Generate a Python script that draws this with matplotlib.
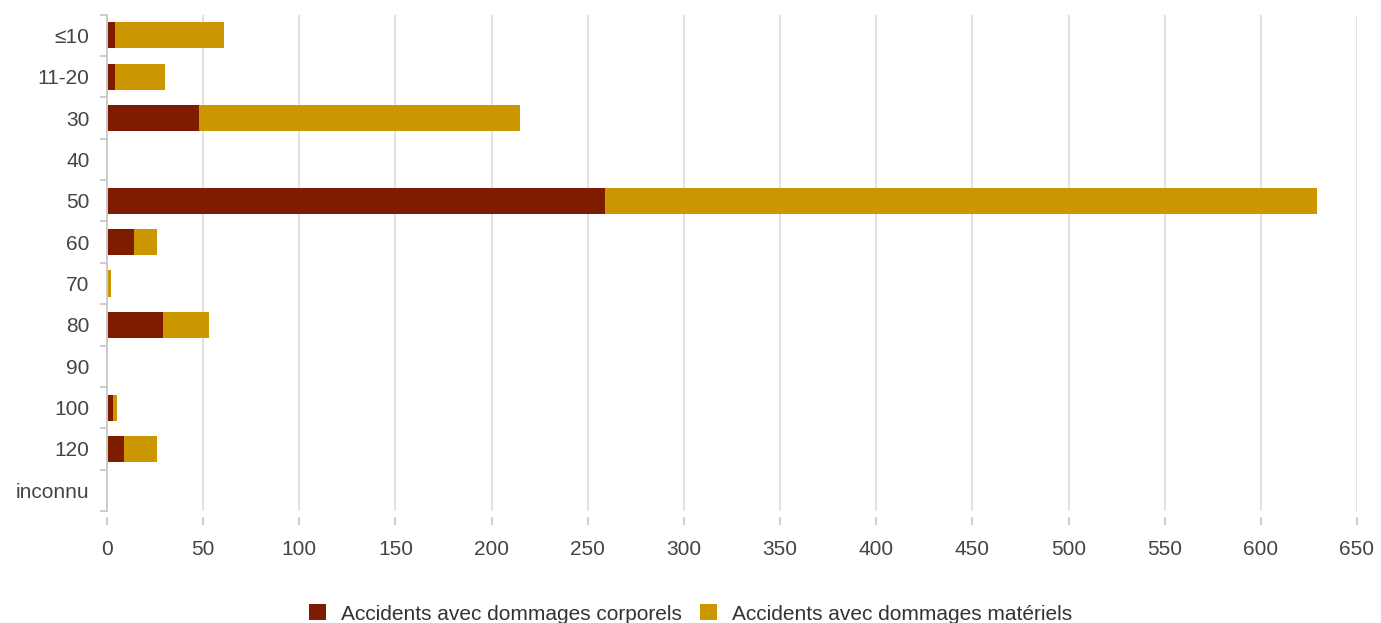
import matplotlib
matplotlib.use("Agg")
import matplotlib.pyplot as plt
import numpy as np
from matplotlib.patches import Patch
from matplotlib.ticker import FixedLocator

plt.rcParams['font.family'] = ['Liberation Sans', 'DejaVu Sans']

categories = ['≤10', '11-20', '30', '40', '50', '60', '70', '80', '90', '100', '120', 'inconnu']
corporels = [4, 4, 48, 0, 259, 14, 0, 29, 0, 3, 9, 0]
materiels = [57, 26, 167, 0, 370, 12, 2, 24, 0, 2, 17, 0]
x_ticks = list(range(0, 651, 50))

c_corp = '#7e1c00'
c_mat = '#cc9600'
fs = 15

fig = plt.figure(figsize=(13.81, 6.23), dpi=100)
ax = fig.add_axes([0.0775, 0.1798, 0.9826 - 0.0775, 0.9764 - 0.1798])

y = np.arange(len(categories))
corp = np.array(corporels)
mat = np.array(materiels)
ax.barh(y, corp, height=0.63, color=c_corp, zorder=3)
ax.barh(y, mat, left=corp, height=0.63, color=c_mat, zorder=3)

ax.set_xlim(0, 650)
ax.set_ylim(len(categories) - 0.5, -0.5)
ax.set_xticks(x_ticks)
ax.set_yticks(y)
ax.set_yticklabels(categories)
ax.yaxis.set_minor_locator(FixedLocator(np.arange(-0.5, len(categories), 1.0)))

ax.grid(axis='x', color='#e2e2e2', linewidth=1.4, zorder=0)
for s in ['top', 'right']:
    ax.spines[s].set_visible(False)
ax.spines['bottom'].set_position(('outward', 4))
ax.spines['bottom'].set_visible(False)
ax.spines['left'].set_color('#cccccc')
ax.spines['left'].set_linewidth(1.4)
ax.spines['left'].set_zorder(4)

ax.tick_params(axis='x', length=6, width=1.4, color='#cccccc', labelsize=fs,
               labelcolor='#444444', pad=11)
ax.tick_params(axis='y', which='major', length=0, labelsize=fs,
               labelcolor='#444444', pad=12.5)
ax.tick_params(axis='y', which='minor', length=5, width=1.4, color='#cccccc')

handles = [Patch(facecolor=c_corp, label='Accidents avec dommages corporels'),
           Patch(facecolor=c_mat, label='Accidents avec dommages matériels')]
fig.legend(handles=handles, loc='lower center', ncol=2, frameon=False,
           fontsize=fs, labelcolor='#333333', bbox_to_anchor=(0.5, -0.031),
           handlelength=0.8, handleheight=0.8, handletextpad=0.7, columnspacing=0.9)

fig.savefig('out.png', dpi=100)
